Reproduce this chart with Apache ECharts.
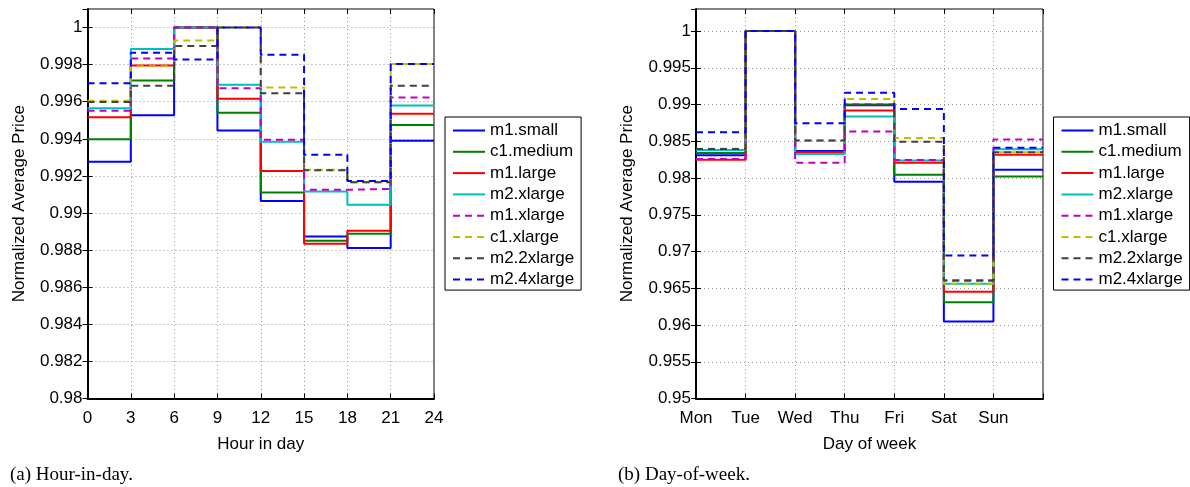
<!DOCTYPE html>
<html>
<head>
<meta charset="utf-8">
<script src="https://cdn.jsdelivr.net/npm/echarts@6/dist/echarts.min.js"></script>
<style>
  html, body { margin: 0; padding: 0; background: #fff; }
  #chart { width: 1190px; height: 487px; }
</style>
</head>
<body>
<div id="chart"></div>
<script>
// Instance types, in drawing order
const instanceNames = ['m1.small', 'c1.medium', 'm1.large', 'm2.xlarge', 'm1.xlarge', 'c1.xlarge', 'm2.2xlarge', 'm2.4xlarge'];

// Hour-in-day: bin edges (hours) and normalized average price per 3-hour bin
const hourEdges = [0, 3, 6, 9, 12, 15, 18, 21, 24];
const m1SmallHour   = [0.99277, 0.99527, 1.0,     0.99445, 0.99065, 0.98873, 0.98812, 0.99389];
const c1MediumHour  = [0.99398, 0.99714, 1.0,     0.99540, 0.99110, 0.98850, 0.98888, 0.99475];
const m1LargeHour   = [0.99517, 0.99795, 1.0,     0.99616, 0.99227, 0.98834, 0.98904, 0.99535];
const m2XlargeHour  = [0.99565, 0.99884, 1.0,     0.99691, 0.99384, 0.99116, 0.99044, 0.99580];
const m1XlargeHour  = [0.99551, 0.99833, 1.0,     0.99673, 0.99395, 0.99125, 0.99130, 0.99623];
const c1XlargeHour  = [0.99605, 0.99792, 0.99930, 1.0,     0.99677, 0.99233, 0.99166, 0.99803];
const m22xlargeHour = [0.99598, 0.99686, 0.99901, 1.0,     0.99646, 0.99230, 0.99166, 0.99686];
const m24xlargeHour = [0.99700, 0.99864, 0.99828, 1.0,     0.99854, 0.99314, 0.99172, 0.99803];

// Day-of-week: day labels and normalized average price per day
const dayLabels = ['Mon', 'Tue', 'Wed', 'Thu', 'Fri', 'Sat', 'Sun'];
const m1SmallDay   = [0.98310, 1.0, 0.98367, 0.98990, 0.97950, 0.96049, 0.98113];
const c1MediumDay  = [0.98340, 1.0, 0.98350, 0.99000, 0.98045, 0.96308, 0.98022];
const m1LargeDay   = [0.98250, 1.0, 0.98340, 0.98918, 0.98209, 0.96454, 0.98318];
const m2XlargeDay  = [0.98380, 1.0, 0.98327, 0.98836, 0.98240, 0.96563, 0.98390];
const m1XlargeDay  = [0.98258, 1.0, 0.98209, 0.98632, 0.98245, 0.96604, 0.98523];
const c1XlargeDay  = [0.98400, 1.0, 0.98509, 0.99077, 0.98545, 0.96563, 0.98350];
const m22xlargeDay = [0.98395, 1.0, 0.98509, 0.99000, 0.98495, 0.96604, 0.98350];
const m24xlargeDay = [0.98622, 1.0, 0.98745, 0.99159, 0.98940, 0.96945, 0.98413];

const hourSeriesValues = [m1SmallHour, c1MediumHour, m1LargeHour, m2XlargeHour, m1XlargeHour, c1XlargeHour, m22xlargeHour, m24xlargeHour];
const daySeriesValues  = [m1SmallDay, c1MediumDay, m1LargeDay, m2XlargeDay, m1XlargeDay, c1XlargeDay, m22xlargeDay, m24xlargeDay];

// Line styles per instance type
const lineColors = ['#0000ff', '#008000', '#ff0000', '#00bfbf', '#bf00bf', '#bfbf00', '#404040', '#0000ff'];
const lineDashed = [false, false, false, false, true, true, true, true];

const FONT = 'Liberation Sans, Arial, Helvetica, sans-serif';
const TXT = { fontFamily: FONT, fontSize: 17, color: '#000' };

function fmtTick(v) {
  return String(parseFloat(v.toFixed(4)));
}

// Build stair-step data: each value holds from its edge to the next edge
function stepData(edges, vals) {
  return edges.map((x, i) => [x, vals[Math.min(i, vals.length - 1)]]);
}

function makeSeries(gridIdx, edges, valueSets) {
  return instanceNames.map((name, k) => ({
    name: name,
    type: 'line',
    step: 'end',
    xAxisIndex: gridIdx * 2,
    yAxisIndex: gridIdx * 2,
    symbol: 'none',
    animation: false,
    silent: true,
    lineStyle: {
      color: lineColors[k],
      width: 2,
      type: lineDashed[k] ? [7, 5] : 'solid',
      cap: 'butt'
    },
    itemStyle: { color: lineColors[k] },
    data: stepData(edges, valueSets[k])
  }));
}

const splitLineStyle = { show: true, lineStyle: { color: '#9a9a9a', type: [1, 3], width: 1 } };
const tickIn = { show: true, inside: true, length: 5, lineStyle: { color: '#000', width: 1 } };

function mainXAxis(gridIndex, min, max, interval, labelFmt, name) {
  return {
    type: 'value', gridIndex, min, max, interval, position: 'bottom',
    name, nameLocation: 'middle', nameGap: 37, nameTextStyle: TXT,
    axisLine: { show: true, onZero: false, lineStyle: { color: '#000', width: 2 } },
    axisTick: tickIn,
    axisLabel: Object.assign({ margin: 11, formatter: labelFmt, showMaxLabel: true, showMinLabel: true }, TXT),
    splitLine: splitLineStyle
  };
}
function mainYAxis(gridIndex, min, max, interval, name, gap) {
  return {
    type: 'value', gridIndex, min, max, interval, position: 'left',
    name, nameLocation: 'middle', nameGap: gap, nameTextStyle: TXT,
    axisLine: { show: true, onZero: false, lineStyle: { color: '#000', width: 2 } },
    axisTick: tickIn,
    axisLabel: Object.assign({ margin: 5, showMaxLabel: false, formatter: fmtTick }, TXT),
    splitLine: splitLineStyle
  };
}
function mirrorAxis(kind, gridIndex, min, max, interval) {
  return {
    type: 'value', gridIndex, min, max, interval,
    position: kind === 'x' ? 'top' : 'right',
    axisLine: { show: false },
    axisTick: tickIn,
    axisLabel: { show: false },
    splitLine: { show: false }
  };
}

const CAPTION = { fontFamily: 'Liberation Serif, serif', fontSize: 19, fontWeight: 'normal', color: '#000' };

const option = {
  backgroundColor: '#ffffff',
  animation: false,
  textStyle: { fontFamily: FONT },
  title: [
    { text: '(a) Hour-in-day.', left: 5, top: 461, textStyle: CAPTION },
    { text: '(b) Day-of-week.', left: 613, top: 461, textStyle: CAPTION }
  ],
  grid: [
    { left: 87.5, top: 9, width: 346.5, height: 389.5, show: true, borderColor: '#000', borderWidth: 1, containLabel: false },
    { left: 696, top: 9, width: 347, height: 389.5, show: true, borderColor: '#000', borderWidth: 1, containLabel: false }
  ],
  xAxis: [
    mainXAxis(0, 0, 24, 3, v => String(v), 'Hour in day'),
    mirrorAxis('x', 0, 0, 24, 3),
    mainXAxis(1, 0, 7, 1, v => (dayLabels[v] !== undefined ? dayLabels[v] : ''), 'Day of week'),
    mirrorAxis('x', 1, 0, 7, 1)
  ],
  yAxis: [
    mainYAxis(0, 0.98, 1.001, 0.002, 'Normalized Average Price', 60),
    mirrorAxis('y', 0, 0.98, 1.001, 0.002),
    mainYAxis(1, 0.95, 1.003, 0.005, 'Normalized Average Price', 60),
    mirrorAxis('y', 1, 0.95, 1.003, 0.005)
  ],
  legend: [0, 1].map(i => ({
    data: instanceNames,
    orient: 'vertical',
    left: i === 0 ? 445 : 1053.5,
    top: 117,
    padding: [5, 7, 2, 7],
    itemWidth: 32,
    itemHeight: 14,
    itemGap: 4.3,
    borderColor: '#000',
    borderWidth: 1,
    backgroundColor: '#fff',
    selectedMode: false,
    textStyle: Object.assign({ lineHeight: 17, padding: [0, 0, 0, 0] }, TXT),
    itemStyle: { opacity: 0, color: 'rgba(0,0,0,0)', borderWidth: 0 },
    lineStyle: { width: 2 }
  })),
  series: [].concat(
    makeSeries(0, hourEdges, hourSeriesValues),
    makeSeries(1, hourEdges.slice(0, 8).map((_, i) => i), daySeriesValues)
  )
};

const chart = echarts.init(document.getElementById('chart'), null, { renderer: 'canvas' });
chart.setOption(option);
</script>
</body>
</html>
